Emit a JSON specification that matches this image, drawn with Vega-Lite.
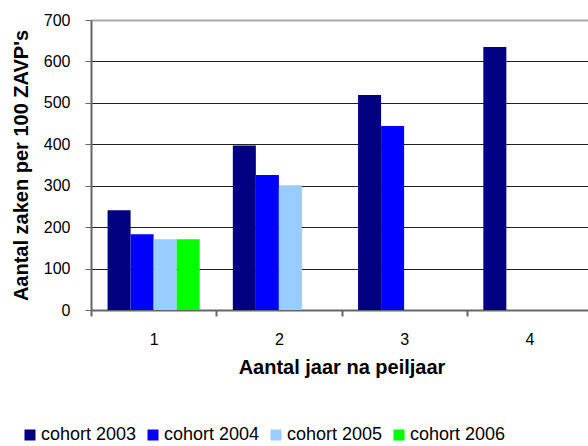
{
  "$schema": "https://vega.github.io/schema/vega-lite/v6.json",
  "autosize": "none",
  "width": 501,
  "height": 290,
  "padding": {"left": 91, "top": 20, "right": 0, "bottom": 136},
  "background": "white",
  "config": {
    "font": "Liberation Sans",
    "view": {"stroke": null}
  },
  "data": {
    "values": [
      {"jaar": "1", "cohort": "cohort 2003", "waarde": 241},
      {"jaar": "1", "cohort": "cohort 2004", "waarde": 183},
      {"jaar": "1", "cohort": "cohort 2005", "waarde": 171},
      {"jaar": "1", "cohort": "cohort 2006", "waarde": 171},
      {"jaar": "2", "cohort": "cohort 2003", "waarde": 397},
      {"jaar": "2", "cohort": "cohort 2004", "waarde": 326},
      {"jaar": "2", "cohort": "cohort 2005", "waarde": 301},
      {"jaar": "3", "cohort": "cohort 2003", "waarde": 519},
      {"jaar": "3", "cohort": "cohort 2004", "waarde": 444},
      {"jaar": "4", "cohort": "cohort 2003", "waarde": 635}
    ]
  },
  "mark": {"type": "bar"},
  "encoding": {
    "x": {
      "field": "jaar",
      "type": "nominal",
      "scale": {"domain": ["1", "2", "3", "4"], "paddingInner": 0, "paddingOuter": 0},
      "axis": {
        "title": "Aantal jaar na peiljaar",
        "titleFont": "Liberation Sans",
        "titleFontSize": 20,
        "titleFontWeight": "bold",
        "titleColor": "black",
        "titlePadding": 10,
        "labelFont": "Liberation Sans",
        "labelFontSize": 16,
        "labelColor": "black",
        "labelAngle": 0,
        "labelPadding": 15,
        "tickBand": "extent",
        "tickSize": 6,
        "tickColor": "#666",
        "tickWidth": 2,
        "domainColor": "#666",
        "domainWidth": 2,
        "grid": false
      }
    },
    "xOffset": {
      "field": "cohort",
      "type": "nominal",
      "scale": {"domain": ["cohort 2003", "cohort 2004", "cohort 2005", "cohort 2006"], "paddingInner": 0, "paddingOuter": 0.72}
    },
    "y": {
      "field": "waarde",
      "type": "quantitative",
      "scale": {"domain": [0, 700], "nice": false},
      "axis": {
        "title": "Aantal zaken per 100 ZAVP's",
        "titleFont": "Liberation Sans",
        "titleFontSize": 20,
        "titleFontWeight": "bold",
        "titleColor": "black",
        "titlePadding": 12,
        "values": [0, 100, 200, 300, 400, 500, 600, 700],
        "labelFont": "Liberation Sans",
        "labelFontSize": 16,
        "labelColor": "black",
        "labelPadding": 15,
        "tickSize": 6,
        "tickColor": "#666",
        "tickWidth": 1,
        "domainColor": "#666",
        "domainWidth": 2,
        "grid": true,
        "gridColor": {"condition": {"test": "datum.value === 700", "value": "#aaaaaa"}, "value": "#222222"},
        "gridWidth": {"condition": {"test": "datum.value === 700", "value": 2}, "value": 1},
        "gridOpacity": 1
      }
    },
    "color": {
      "field": "cohort",
      "type": "nominal",
      "scale": {
        "domain": ["cohort 2003", "cohort 2004", "cohort 2005", "cohort 2006"],
        "range": ["#000080", "#0000ff", "#99ccff", "#00ff00"]
      },
      "legend": {
        "title": null,
        "orient": "none",
        "direction": "horizontal",
        "columns": 4,
        "legendX": -70,
        "legendY": 406,
        "symbolType": "square",
        "symbolSize": 121,
        "symbolStrokeWidth": 0,
        "symbolOpacity": 1,
        "labelFont": "Liberation Sans",
        "labelFontSize": 18,
        "labelColor": "black",
        "labelOffset": 2,
        "columnPadding": 7,
        "labelLimit": 200
      }
    }
  }
}
